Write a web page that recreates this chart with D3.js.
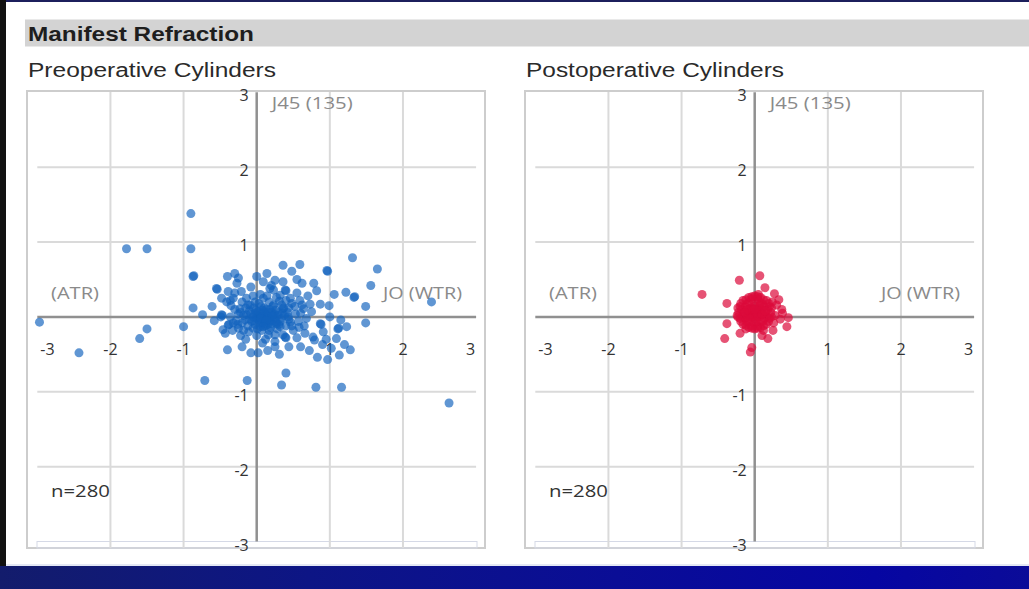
<!DOCTYPE html>
<html><head><meta charset="utf-8">
<script src="https://cdn.jsdelivr.net/npm/d3@7"></script>
<style>body{margin:0;background:#fff;overflow:hidden} svg{display:block}</style>
</head><body><svg id="c" width="1029" height="589"></svg>
<script>
// ---------- data ----------
const pageTitle = "Manifest Refraction";
const panelTitles = ["Preoperative Cylinders", "Postoperative Cylinders"];
const xTickValues = [-3, -2, -1, 1, 2, 3];
const yTickValues = [3, 2, 1, -1, -2, -3];
const gridValues = [-2, -1, 1, 2];
const axisNames = { top: "J45 (135)", left: "(ATR)", right: "JO (WTR)" };
const countLabels = ["n=280", "n=280"];

const preValues = [
  [-0.90,1.38],[-1.78,0.91],[-1.50,0.91],[-0.90,0.91],[-2.97,-0.07],[-2.43,-0.48],[-1.50,-0.16],[-1.60,-0.29],
  [-1.00,-0.13],[-0.71,-0.85],[-0.13,-0.85],[0.34,-0.91],[0.40,-0.75],[0.81,-0.94],[1.16,-0.94],[2.63,-1.15],
  [2.39,0.20],[1.65,0.64],[1.31,0.79],
  [-0.87,0.54],[-0.86,0.55],[-0.87,0.12],[-0.74,0.03],[-0.40,-0.44],[-0.08,-0.48],[0.02,-0.48],[0.08,-0.35],
  [0.25,-0.40],[0.31,-0.50],[0.83,-0.54],[0.97,-0.57],[1.13,-0.51],[1.28,-0.44],[1.56,0.42],[1.49,0.14],
  [1.49,-0.08],[1.34,0.27],[1.33,0.26],[1.22,0.33],[0.97,0.61],[0.96,0.62],[0.59,0.70],[0.36,0.69],[0.48,0.61],
  [0.62,0.45],[0.00,0.54],[-0.30,0.58],[-0.40,0.54],[-0.54,0.37],[-0.55,0.38],[-0.61,0.14],[0.82,0.35],
  [0.87,0.17],[0.99,0.15],[1.15,-0.04],[1.23,-0.13],[1.12,-0.15],[1.11,-0.16],[0.87,-0.09],[0.88,-0.10],
  [1.09,-0.29],[1.20,-0.37],[0.90,-0.37],[0.79,-0.31],[0.66,-0.22],[0.55,-0.28],[0.39,-0.27],[0.40,-0.28],
  [0.25,-0.24],[-0.46,-0.17],[-0.43,-0.22],[-0.49,0.00],[-0.48,0.03],[-0.47,0.02],
  [-0.27,0.45],[-0.39,0.34],[-0.41,0.20],[-0.48,0.25],[-0.32,0.25],[-0.21,0.34],[-0.14,0.25],[-0.09,0.16],
  [-0.23,0.11],[-0.36,0.00],[-0.39,-0.11],[-0.38,-0.10],[-0.25,-0.15],[-0.11,-0.20],[0.05,-0.13],[0.16,-0.24],
  [0.09,0.47],[0.18,0.38],[0.25,0.49],[0.32,0.29],[0.09,0.25],[0.23,0.16],[0.09,0.07],[0.00,0.03],[-0.14,0.03],
  [0.18,-0.06],[-0.07,-0.06],[0.32,-0.06],[0.36,-0.24],[0.25,-0.33],[0.36,0.47],[0.23,0.36],[0.39,0.36],
  [0.40,0.35],[0.59,0.22],[0.73,0.17],[0.46,0.25],[0.52,0.14],[0.75,0.07],[0.91,-0.20],[0.77,-0.27],
  [0.27,-0.09],[0.23,0.03],[0.43,0.00],[0.57,-0.06],[0.68,-0.02],[0.64,0.11],[0.36,0.11],
  [-0.30,0.10],[-0.25,0.04],[-0.28,-0.05],[-0.20,-0.08],[-0.18,0.02],[-0.15,0.12],[-0.12,-0.12],[-0.10,0.08],
  [-0.05,0.00],[-0.04,0.12],[-0.02,-0.10],[0.02,0.07],[0.03,-0.04],[0.06,0.14],[0.07,-0.18],[0.10,0.02],
  [0.11,-0.08],[0.13,0.10],[0.15,-0.02],[0.17,0.20],[0.19,-0.14],[0.20,0.06],[0.22,-0.05],[0.26,0.09],
  [0.28,-0.16],[0.29,0.02],[0.31,0.21],[0.34,-0.02],[0.37,0.12],[0.40,-0.12],[0.42,0.06],[0.46,-0.07],
  [0.48,0.18],[0.50,-0.18],[0.53,0.04],[0.05,0.30],[-0.05,0.28],[0.14,0.28],[-0.20,0.20],[0.00,-0.25],
  [-0.15,-0.30],[0.12,-0.30],[-0.33,-0.18],[-0.30,0.32],[0.20,0.42],[-0.08,0.40],[0.05,0.00],[0.12,0.05],
  [0.08,-0.08],[-0.02,0.05],[0.18,0.10],[0.25,-0.02],[0.00,-0.02],[0.10,0.12],[0.15,-0.10],[-0.10,-0.03],
  [0.03,0.18],[0.22,0.14],[0.30,-0.10],[-0.05,-0.15],[0.35,0.05],[0.60,0.05],[0.65,-0.12],[0.70,0.28],
  [0.55,0.32],[-0.22,-0.25],[-0.35,0.15],[-0.58,-0.05],[-0.25,0.52],[0.14,0.58],[0.44,-0.40],[0.60,-0.40],
  [0.72,-0.45],[-0.20,-0.40],[0.15,-0.45],[1.00,0.00],[0.95,-0.30],[1.02,-0.42],[1.06,0.30],[0.78,0.45],[0.55,0.50],
  [0.02,0.00],[0.06,0.04],[0.10,-0.04],[0.14,0.02],[0.18,-0.02],[0.04,-0.08],[0.08,0.09],[0.16,0.06],
  [0.20,-0.09],[0.24,0.04],[-0.04,-0.05],[-0.08,0.04],[0.12,-0.12],[0.26,-0.06],[0.30,0.06],[0.21,0.01],
  [0.06,-0.02],[0.13,-0.05],[-0.01,0.09],[0.09,-0.13],[0.32,-0.13],[0.38,0.02],[0.44,-0.03],[-0.16,-0.04],
  [-0.22,0.06],[-0.32,-0.08],[-0.12,0.16],[0.34,0.16],[0.44,0.12],[0.48,-0.12],[-0.26,-0.10],[0.58,-0.14],
  [0.62,0.16],[-0.36,0.22],[0.27,0.26],[-0.02,0.20],[0.01,-0.16],[0.17,-0.18],[0.40,0.22],[-0.18,-0.18]
];

const postValues = [
  [-0.72,0.30],[-0.21,0.49],[0.07,0.55],[0.14,0.39],[0.27,0.31],[0.33,0.23],[0.37,0.10],[0.46,-0.01],
  [0.44,-0.13],[0.35,-0.03],[-0.38,0.18],[-0.38,-0.09],[-0.41,-0.29],[-0.06,-0.47],[0.18,-0.29],[-0.04,-0.41],
  [0.30,0.16],[0.25,-0.18],[-0.20,-0.22],[0.10,-0.25],[0.38,0.05],
  [0.00,0.06],[0.02,0.08],[-0.02,0.04],[0.04,0.04],[-0.04,0.08],
  [0.08,0.06],[0.06,0.12],[0.00,0.14],[-0.06,0.12],[-0.08,0.06],[-0.06,0.00],[0.00,-0.02],[0.06,0.00],
  [0.04,0.10],[-0.04,0.02],[0.04,0.00],[-0.04,0.12],
  [0.15,0.06],[0.13,0.14],[0.08,0.19],[0.00,0.21],[-0.08,0.19],[-0.13,0.14],[-0.15,0.06],[-0.13,-0.02],
  [-0.08,-0.07],[0.00,-0.09],[0.08,-0.07],[0.13,-0.02],
  [0.22,0.06],[0.20,0.14],[0.16,0.22],[0.08,0.26],[0.00,0.28],[-0.08,0.26],[-0.16,0.22],[-0.20,0.14],
  [-0.22,0.06],[-0.20,-0.02],[-0.16,-0.10],[-0.08,-0.14],[0.00,-0.16],[0.08,-0.14],[0.16,-0.10],[0.20,-0.02],
  [0.24,0.20],[0.28,0.02],[0.26,-0.08],[0.12,-0.18],[-0.12,-0.16],[0.05,0.30],[-0.24,0.02],
  [0.10,0.10],[-0.10,0.02],[0.03,0.10],[-0.03,0.00],[0.11,0.03],[-0.11,0.09],
  [0.11,0.17],[-0.11,0.17],[0.17,0.00],[-0.17,0.00],[0.11,-0.06],[-0.11,-0.06],[0.04,0.24],[-0.04,-0.12],
  [0.18,0.10],[-0.18,0.10],[0.04,-0.12],[-0.04,0.24],[0.00,0.06],[0.02,0.03],[-0.02,0.10],
  [0.19,0.18],[-0.19,0.18],[0.19,-0.06],[-0.19,-0.06],[0.12,0.23],[-0.12,0.23],[0.12,-0.12],[-0.12,-0.11],
  [0.23,0.12],[-0.23,0.12],[0.23,0.00],[-0.23,0.00],[0.04,-0.15],[-0.04,-0.15],[0.04,0.27],[-0.04,0.27],
  [0.10,0.04],[-0.10,0.10],[0.07,0.15],[-0.07,-0.02],[0.14,0.08],[-0.14,0.06],[0.00,0.10],[0.02,-0.06]
];

const seriesValues = [preValues, postValues];
const seriesColors = ["#1262be", "#dc0a3a"];
const seriesOpacity = [0.67, 0.7];

// ---------- drawing ----------
const svg = d3.select("#c");
const W = 1029, H = 589;
svg.append("rect").attr("width", W).attr("height", H).attr("fill", "#fff");

// page frame
const defs = svg.append("defs");
const grad = defs.append("linearGradient").attr("id", "band").attr("x1", "0").attr("x2", "1").attr("y1", "0").attr("y2", "0");
[["0%", "#131c6c"], ["30%", "#0d1585"], ["60%", "#0a0d96"], ["85%", "#0606a2"], ["100%", "#0b0b98"]]
  .forEach(([o, c]) => grad.append("stop").attr("offset", o).attr("stop-color", c));
svg.append("rect").attr("x", 0).attr("y", 566).attr("width", W).attr("height", H - 566).attr("fill", "url(#band)");
svg.append("rect").attr("x", 0).attr("y", 564).attr("width", W).attr("height", 2).attr("fill", "#e4e8f4");
svg.append("rect").attr("x", 0).attr("y", 0).attr("width", W).attr("height", 2).attr("fill", "#1c1f5c");
svg.append("rect").attr("x", 0).attr("y", 0).attr("width", 6).attr("height", 566).attr("fill", "#111");

// title bar
svg.append("rect").attr("x", 25).attr("y", 19.5).attr("width", W - 25).attr("height", 27).attr("fill", "#d3d3d3");
svg.append("text").attr("x", 28).attr("y", 41).text(pageTitle)
  .attr("font-family", "Liberation Sans, Arial, sans-serif").attr("font-weight", "bold")
  .attr("font-size", 21).attr("fill", "#1e1e1e").attr("textLength", 226).attr("lengthAdjust", "spacingAndGlyphs");

const offsets = [0, 498];
const fontTick = "'Open Sans', 'DejaVu Sans', sans-serif";

offsets.forEach((dx, i) => {
  const g = svg.append("g").attr("transform", `translate(${dx},0)`);
  const x = d3.scaleLinear().domain([-3, 3]).range([37.3, 476.1]);
  const y = d3.scaleLinear().domain([-3, 3]).range([541.5, 92.3]);

  g.append("text").attr("x", 28).attr("y", 77).text(panelTitles[i])
    .attr("font-family", "Liberation Sans, Arial, sans-serif").attr("font-size", 20).attr("fill", "#2a2a2a")
    .attr("textLength", i === 0 ? 248 : 258).attr("lengthAdjust", "spacingAndGlyphs");

  // panel box
  g.append("rect").attr("x", 27).attr("y", 91).attr("width", 458).attr("height", 457)
    .attr("fill", "#fff").attr("stroke", "#cdcdcd").attr("stroke-width", 2);
  g.append("rect").attr("x", 37).attr("y", 541.5).attr("width", 440).attr("height", 6.5)
    .attr("fill", "none").attr("stroke", "#d5d9e6").attr("stroke-width", 1);

  // grid
  g.selectAll("line.vg").data(gridValues).join("line").attr("class", "vg")
    .attr("x1", d => x(d)).attr("x2", d => x(d)).attr("y1", 92).attr("y2", 548)
    .attr("stroke", "#dadada").attr("stroke-width", 2);
  g.selectAll("line.hg").data(gridValues).join("line").attr("class", "hg")
    .attr("y1", d => y(d)).attr("y2", d => y(d)).attr("x1", x(-3)).attr("x2", x(3))
    .attr("stroke", "#dadada").attr("stroke-width", 2);

  // axes
  g.append("line").attr("x1", x(-3)).attr("x2", x(3)).attr("y1", y(0)).attr("y2", y(0))
    .attr("stroke", "#909090").attr("stroke-width", 2.5);
  g.append("line").attr("x1", x(0)).attr("x2", x(0)).attr("y1", y(3)).attr("y2", y(-3))
    .attr("stroke", "#909090").attr("stroke-width", 2.5);

  // tick labels
  g.selectAll("text.xt").data(xTickValues).join("text").attr("class", "xt")
    .attr("x", d => d === -3 ? x(d) + 3 : d === 3 ? x(d) - 1 : x(d))
    .attr("y", y(0) + 38)
    .attr("text-anchor", d => d === -3 ? "start" : d === 3 ? "end" : "middle")
    .attr("font-family", fontTick).attr("font-size", 16).attr("fill", "#333")
    .text(d => d);
  g.selectAll("text.yt").data(yTickValues).join("text").attr("class", "yt")
    .attr("x", x(0) - 8).attr("y", d => y(d) + 9)
    .attr("text-anchor", "end")
    .attr("font-family", fontTick).attr("font-size", 16).attr("fill", "#333")
    .text(d => d);

  // axis names
  const nameStyle = (s, len) => s.attr("font-family", fontTick).attr("font-size", 17).attr("fill", "#8a8a8a")
    .attr("textLength", len).attr("lengthAdjust", "spacingAndGlyphs");
  g.append("text").attr("x", x(0) + 15).attr("y", 109).text(axisNames.top).call(nameStyle, 81);
  g.append("text").attr("x", 51).attr("y", 299).text(axisNames.left).call(nameStyle, 48);
  g.append("text").attr("x", 383).attr("y", 299).text(axisNames.right).call(nameStyle, 79);
  g.append("text").attr("x", 51).attr("y", 497).text(countLabels[i])
    .attr("font-family", fontTick).attr("font-size", 17).attr("fill", "#333")
    .attr("textLength", 59).attr("lengthAdjust", "spacingAndGlyphs");

  // points
  g.selectAll("circle").data(seriesValues[i]).join("circle")
    .attr("cx", d => x(d[0])).attr("cy", d => y(d[1])).attr("r", 4.5)
    .attr("fill", seriesColors[i]).attr("fill-opacity", seriesOpacity[i]);
});
</script></body></html>
